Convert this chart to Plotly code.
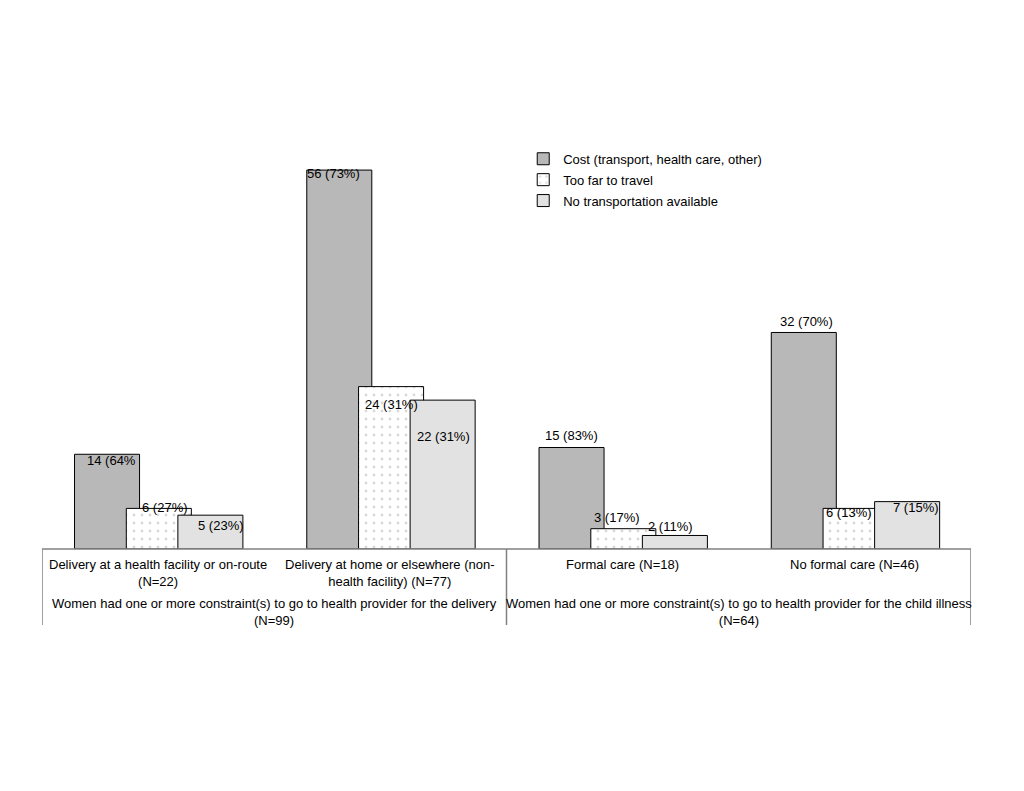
import plotly.graph_objects as go

# ---- data ----
categories = [
    "Delivery at a health facility or on-route<br>(N=22)",
    "Delivery at home or elsewhere (non-<br>health facility) (N=77)",
    "Formal care (N=18)",
    "No formal care (N=46)",
]
group_labels = [
    "Women had one or more constraint(s) to go to health provider for the delivery<br>(N=99)",
    "Women had one or more constraint(s) to go to health provider for the child illness<br>(N=64)",
]
series_names = [
    "Cost (transport, health care, other)",
    "Too far to travel",
    "No transportation available",
]
cost = [14, 56, 15, 32]
too_far = [6, 24, 3, 6]
no_transport = [5, 22, 2, 7]
cost_labels = ["14 (64%", "56 (73%)", "15 (83%)", "32 (70%)"]
far_labels = ["6 (27%)", "24 (31%)", "3 (17%)", "6 (13%)"]
trans_labels = ["5 (23%)", "22 (31%)", "2 (11%)", "7 (15%)"]

# ---- style ----
FONT = "Liberation Sans, Arial, sans-serif"
FS = 13
bar_width = 0.28
offsets = [-0.36, -0.137, 0.085]
# label pixel shifts (dx, dy) relative to bar top centre
cost_shift = [(4, -6), (-6, -3), (0, 12), (3, 11)]
far_shift = [(6, 1), (0, -18), (-6, 11), (-7, -4)]
trans_shift = [(11, -10), (1, -36), (-4, 9), (9, -6)]

xs = list(range(len(categories)))
fig = go.Figure()

fig.add_trace(go.Bar(
    x=xs, y=cost, name=series_names[0], width=bar_width, offset=offsets[0],
    legendgroup="a",
    marker=dict(color="#b8b8b8", line=dict(color="#000000", width=1)),
))
fig.add_trace(go.Bar(
    x=xs, y=too_far, name=series_names[1], width=bar_width, offset=offsets[1],
    legendgroup="b",
    marker=dict(color="#ffffff", line=dict(color="#000000", width=1),
                pattern=dict(shape=".", fgcolor="#b4b4b4", bgcolor="#ffffff",
                             size=8, solidity=0.1)),
))
fig.add_trace(go.Bar(
    x=xs, y=no_transport, name=series_names[2], width=bar_width, offset=offsets[2],
    legendgroup="c",
    marker=dict(color="#e2e2e2", line=dict(color="#000000", width=1)),
))

annotations = []
for vals, labs, shifts, off in [
    (cost, cost_labels, cost_shift, offsets[0]),
    (too_far, far_labels, far_shift, offsets[1]),
    (no_transport, trans_labels, trans_shift, offsets[2]),
]:
    for i, (v, lab, sh) in enumerate(zip(vals, labs, shifts)):
        annotations.append(dict(
            x=i + off + bar_width / 2, y=v, xref="x", yref="y",
            text=lab, showarrow=False, xshift=sh[0], yshift=sh[1],
            font=dict(family=FONT, size=FS, color="#000000"),
        ))

# category labels in the table below the chart
for i, c in enumerate(categories):
    annotations.append(dict(
        x=i, y=0, xref="x", yref="paper", yanchor="top", yshift=-6,
        text=c, showarrow=False, align="center",
        font=dict(family=FONT, size=FS, color="#000000"),
    ))
for j, g in enumerate(group_labels):
    annotations.append(dict(
        x=0.5 + 2 * j, y=0, xref="x", yref="paper", yanchor="top", yshift=-45,
        text=g, showarrow=False, align="center",
        font=dict(family=FONT, size=FS, color="#000000"),
    ))

line_col = "#808080"
table_depth = -76 / 406
shapes = [
    dict(type="line", xref="x", yref="paper", x0=-0.5, x1=3.5, y0=0, y1=0,
         line=dict(color=line_col, width=1.5)),
]
for xv in [-0.5, 1.5, 3.5]:
    shapes.append(dict(type="line", xref="x", yref="paper", x0=xv, x1=xv,
                       y0=0, y1=table_depth, line=dict(color=line_col, width=1.5)))

fig.update_layout(
    width=1016, height=783,
    margin=dict(l=34, r=53, t=135, b=242),
    paper_bgcolor="#ffffff", plot_bgcolor="#ffffff",
    barmode="overlay",
    showlegend=True,
    legend=dict(x=0.518, y=0.998, xanchor="left", yanchor="top",
                bgcolor="rgba(0,0,0,0)", traceorder="grouped", tracegroupgap=1,
                font=dict(family=FONT, size=FS, color="#000000")),
    xaxis=dict(range=[-0.5, 3.5], visible=False, fixedrange=True),
    yaxis=dict(range=[0, 60], visible=False, fixedrange=True),
    annotations=annotations,
    shapes=shapes,
    font=dict(family=FONT, size=FS),
)

fig.write_html("out.html")
